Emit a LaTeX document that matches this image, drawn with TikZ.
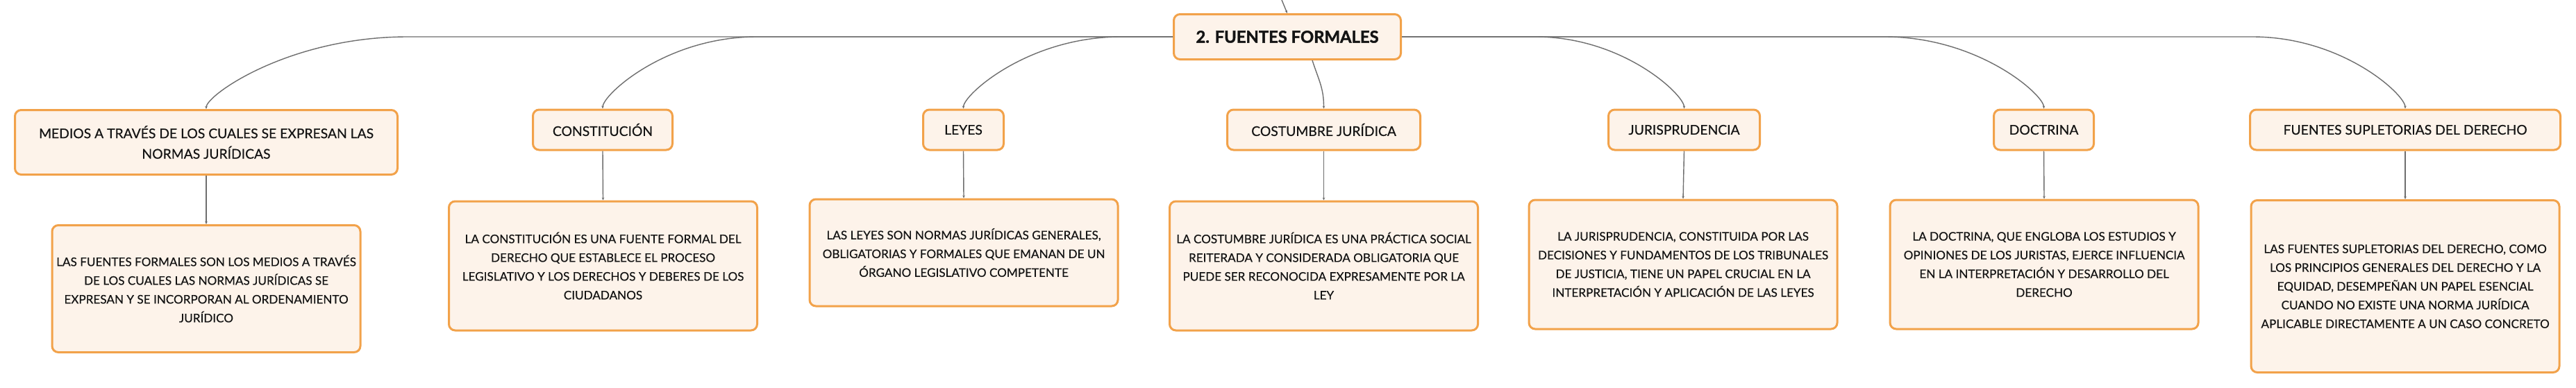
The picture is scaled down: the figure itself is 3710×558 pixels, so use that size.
\documentclass[tikz,border=0pt]{standalone}
\usepackage{fontspec}
\setmainfont{Lato}
\newfontfamily\bodyfont{Lato}[FakeBold=0.45]
\newfontfamily\rootfont{Lato}[BoldFeatures={FakeBold=1.6}]
\usetikzlibrary{calc,arrows.meta}
\definecolor{boxfill}{HTML}{FDF3EA}
\definecolor{boxline}{HTML}{F2A24A}
\definecolor{linkgray}{HTML}{6E6E6E}
\definecolor{txt}{HTML}{141414}
\begin{document}
\begin{tikzpicture}[x=1pt,y=-1pt,
  box/.style={draw=boxline, line width=3pt, fill=boxfill, rounded corners=9pt, inner sep=0pt, align=center, text=txt},
  rootbox/.style={box, font=\rootfont\fontsize{23.8}{28}\selectfont\bfseries},
  titlebox/.style={box, font=\bodyfont\fontsize{19.3}{29.5}\selectfont, minimum height=58pt},
  detailbox/.style={box, font=\bodyfont\fontsize{17.1}{27}\selectfont, minimum width=444pt},
  link/.style={draw=linkgray, line width=1.4pt, -{Stealth[length=4pt,width=3.5pt]}},
]
\useasboundingbox (0,0) rectangle (3710,558);
\fill[white] (0,0) rectangle (3710,558);

% root
\node[rootbox, minimum width=327pt, minimum height=65pt] (root) at (1854,53) {2. FUENTES FORMALES};
\coordinate (parent) at (1846,0);

% level 1
\node[titlebox, minimum width=551pt, minimum height=93pt] (medios) at (297,205) {MEDIOS A TRAVÉS DE LOS CUALES SE EXPRESAN LAS\\NORMAS JURÍDICAS};
\node[titlebox, minimum width=201pt] (const) at (868,187) {CONSTITUCIÓN};
\node[titlebox, minimum width=116pt] (leyes) at (1387.5,187) {LEYES};
\node[titlebox, minimum width=278pt] (cost) at (1906.5,187) {COSTUMBRE JURÍDICA};
\node[titlebox, minimum width=218pt] (juris) at (2425.5,187) {JURISPRUDENCIA};
\node[titlebox, minimum width=144pt] (doct) at (2943.5,187) {DOCTRINA};
\node[titlebox, minimum width=447pt] (supl) at (3464,187) {FUENTES SUPLETORIAS DEL DERECHO};

% level 2
\node[detailbox, minimum height=183pt] (mediosD) at (297,416) {LAS FUENTES FORMALES SON LOS MEDIOS A TRAVÉS\\DE LOS CUALES LAS NORMAS JURÍDICAS SE\\EXPRESAN Y SE INCORPORAN AL ORDENAMIENTO\\JURÍDICO};
\node[detailbox, minimum height=186pt] (constD) at (868.5,383) {LA CONSTITUCIÓN ES UNA FUENTE FORMAL DEL\\DERECHO QUE ESTABLECE EL PROCESO\\LEGISLATIVO Y LOS DERECHOS Y DEBERES DE LOS\\CIUDADANOS};
\node[detailbox, minimum height=154pt] (leyesD) at (1388,364) {LAS LEYES SON NORMAS JURÍDICAS GENERALES,\\OBLIGATORIAS Y FORMALES QUE EMANAN DE UN\\ÓRGANO LEGISLATIVO COMPETENTE};
\node[detailbox, minimum height=186pt] (costD) at (1906.5,383) {LA COSTUMBRE JURÍDICA ES UNA PRÁCTICA SOCIAL\\REITERADA Y CONSIDERADA OBLIGATORIA QUE\\PUEDE SER RECONOCIDA EXPRESAMENTE POR LA\\LEY};
\node[detailbox, minimum height=186pt] (jurisD) at (2424,381) {LA JURISPRUDENCIA, CONSTITUIDA POR LAS\\DECISIONES Y FUNDAMENTOS DE LOS TRIBUNALES\\DE JUSTICIA, TIENE UN PAPEL CRUCIAL EN LA\\INTERPRETACIÓN Y APLICACIÓN DE LAS LEYES};
\node[detailbox, minimum height=186pt] (doctD) at (2944,381) {LA DOCTRINA, QUE ENGLOBA LOS ESTUDIOS Y\\OPINIONES DE LOS JURISTAS, EJERCE INFLUENCIA\\EN LA INTERPRETACIÓN Y DESARROLLO DEL\\DERECHO};
\node[detailbox, minimum height=248pt] (suplD) at (3464,412.5) {LAS FUENTES SUPLETORIAS DEL DERECHO, COMO\\LOS PRINCIPIOS GENERALES DEL DERECHO Y LA\\EQUIDAD, DESEMPEÑAN UN PAPEL ESENCIAL\\CUANDO NO EXISTE UNA NORMA JURÍDICA\\APLICABLE DIRECTAMENTE A UN CASO CONCRETO};

% connectors root -> level 1
\draw[link] (parent) .. controls (1849,9) .. (root.north);
\draw[link] (root.west) -- ($(medios.north|-root.west)+(290,0)$) .. controls ($(medios.north|-root.west)+(119,0)$) and ($(medios.north)+(0,-20)$) .. (medios.north);
\draw[link] (root.west) -- ($(const.north|-root.west)+(222,0)$) .. controls ($(const.north|-root.west)+(91,0)$) and ($(const.north)+(0,-20)$) .. (const.north);
\draw[link] (root.west) -- ($(leyes.north|-root.west)+(227,0)$) .. controls ($(leyes.north|-root.west)+(93,0)$) and ($(leyes.north)+(0,-20)$) .. (leyes.north);
\draw[link] ($(root.south)+(36,0)$) .. controls ($(root.south)+(45,28)$) and ($(cost.north)+(0,-30)$) .. (cost.north);
\draw[link] (root.east) -- ($(juris.north|-root.east)+(-214,0)$) .. controls ($(juris.north|-root.east)+(-88,0)$) and ($(juris.north)+(0,-20)$) .. (juris.north);
\draw[link] (root.east) -- ($(doct.north|-root.east)+(-229,0)$) .. controls ($(doct.north|-root.east)+(-94,0)$) and ($(doct.north)+(0,-20)$) .. (doct.north);
\draw[link] (root.east) -- ($(supl.north|-root.east)+(-220,0)$) .. controls ($(supl.north|-root.east)+(-90,0)$) and ($(supl.north)+(0,-20)$) .. (supl.north);

% connectors level 1 -> level 2
\draw[link] (medios.south) -- (mediosD.north);
\draw[link] (const.south) -- (constD.north);
\draw[link] (leyes.south) -- (leyesD.north);
\draw[link] (cost.south) -- (costD.north);
\draw[link] (juris.south) -- (jurisD.north);
\draw[link] (doct.south) -- (doctD.north);
\draw[link] (supl.south) -- (suplD.north);
\end{tikzpicture}
\end{document}
